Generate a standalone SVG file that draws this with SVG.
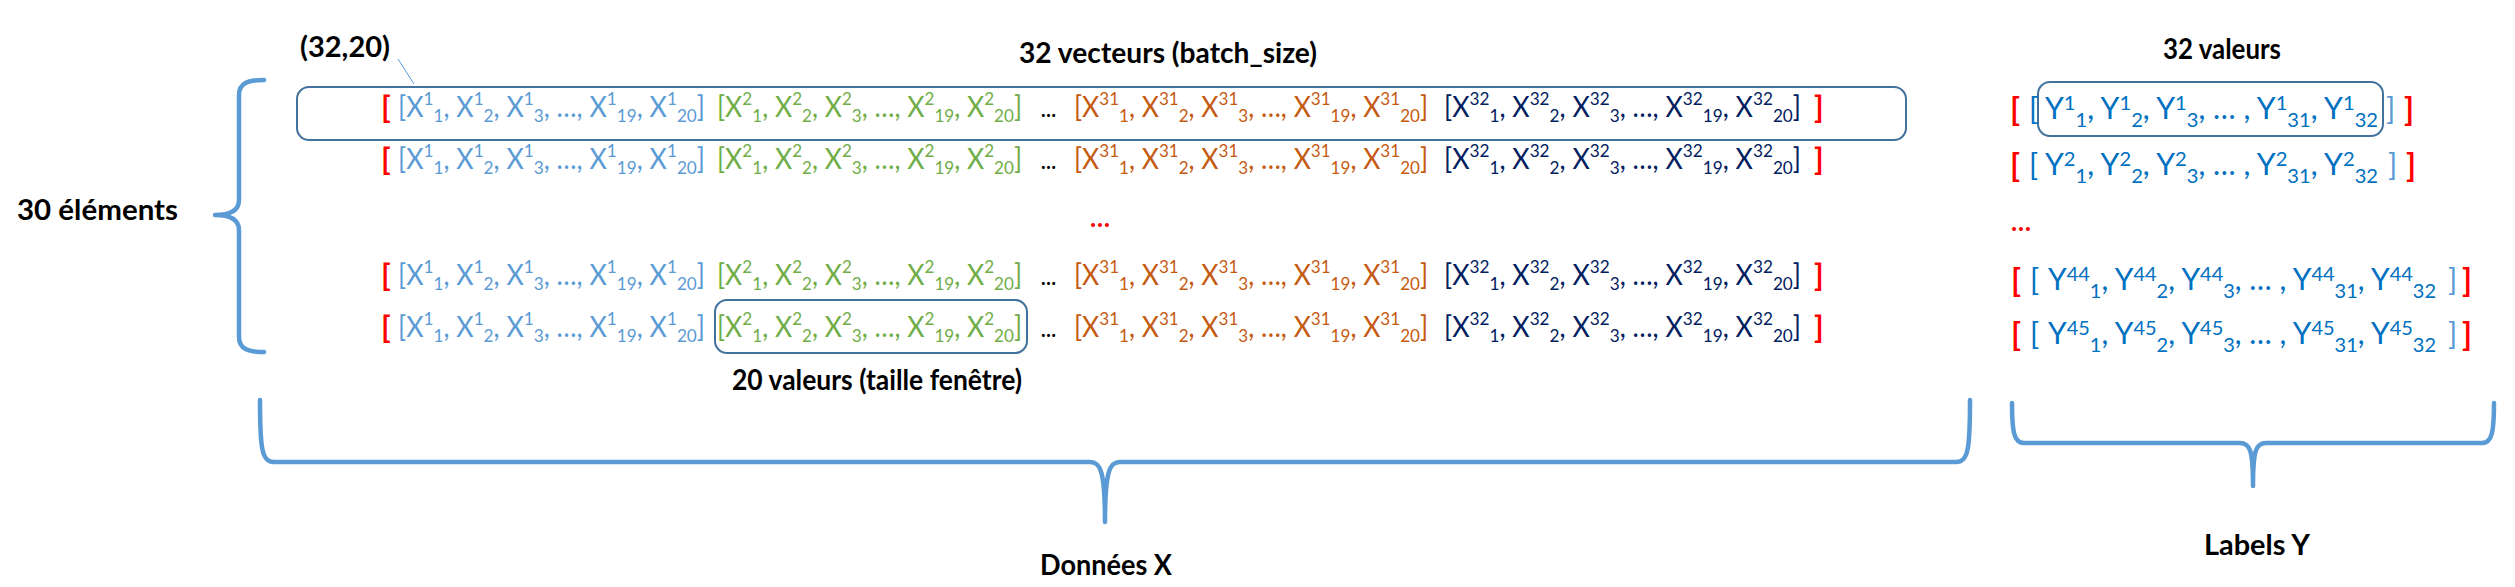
<svg xmlns="http://www.w3.org/2000/svg" width="2515" height="587" viewBox="0 0 2515 587">
<style>
text{font-family:Lato,'Noto Sans',sans-serif}
.xt{font-size:28px}
.s{font-size:18px}
.ys{font-size:20px}
.yt{font-size:30px;fill:#0070C0}
.c1{fill:#5B9BD5}.c2{fill:#70AD47}.c3{fill:#C55A11}.c4{fill:#002060}
.red{fill:#FF0000;font-weight:bold;font-size:31px}
.dots{fill:#000;font-weight:bold;font-size:20px}
.lb{fill:#5B9BD5;font-size:30px}
.lbl{font-weight:bold;font-size:28px;fill:#000}
.box{fill:none;stroke:#41719C;stroke-width:2}
.brace{fill:none;stroke:#5B9BD5;stroke-width:4.5;stroke-linecap:round;stroke-linejoin:round}
</style>
<rect width="2515" height="587" fill="#fff"/>
<g id="labels">
<text class="lbl" x="300" y="57" textLength="90" lengthAdjust="spacingAndGlyphs">(32,20)</text>
<text class="lbl" x="1019" y="63" textLength="298" lengthAdjust="spacingAndGlyphs">32 vecteurs (batch_size)</text>
<text class="lbl" x="2163" y="59" textLength="118" lengthAdjust="spacingAndGlyphs">32 valeurs</text>
<text class="lbl" x="17" y="220" textLength="161" lengthAdjust="spacingAndGlyphs">30 éléments</text>
<text class="lbl" x="732" y="390" textLength="290" lengthAdjust="spacingAndGlyphs">20 valeurs (taille fenêtre)</text>
<text class="lbl" x="1040" y="575" textLength="132" lengthAdjust="spacingAndGlyphs">Données X</text>
<text class="lbl" x="2204" y="555" textLength="106" lengthAdjust="spacingAndGlyphs">Labels Y</text>
</g>
<g id="connectors">
<line x1="398" y1="59" x2="414" y2="84" stroke="#5B9BD5" stroke-width="1"/>
<path class="brace" d="M264,80 C248,80 239,83 239,95 L239,200 C239,211 230,215 215,215 C230,215 239,219 239,230 L239,337 C239,349 248,352 264,352"/>
<path class="brace" d="M260,400 C260,450 262,462 274,462 L1090,462 C1100,462 1105,470 1105,522 C1105,470 1110,462 1120,462 L1956,462 C1968,462 1970,450 1970,400"/>
<path class="brace" d="M2012,403 C2012,432 2014,443 2024,443 L2240,443 C2250,443 2253,450 2253,486 C2253,450 2256,443 2266,443 L2482,443 C2492,443 2494,432 2494,403"/>
</g>
<g id="boxes">
<rect id="box-batch" class="box" x="297" y="87" width="1609" height="53" rx="12"/>
<rect id="box-window" class="box" x="715" y="300" width="312" height="53" rx="12"/>
<rect id="box-labels" class="box" x="2038" y="82" width="345" height="54" rx="12"/>
</g>
<g id="x-row1">
<text class="red" x="381" y="118">[</text>
<text class="xt c1" x="398" y="117" textLength="307" lengthAdjust="spacingAndGlyphs">[X<tspan class="s" dy="-12">1</tspan><tspan class="s" dy="17">1</tspan><tspan dy="-5">, X</tspan><tspan class="s" dy="-12">1</tspan><tspan class="s" dy="17">2</tspan><tspan dy="-5">, X</tspan><tspan class="s" dy="-12">1</tspan><tspan class="s" dy="17">3</tspan><tspan dy="-5">, …, X</tspan><tspan class="s" dy="-12">1</tspan><tspan class="s" dy="17">19</tspan><tspan dy="-5">, X</tspan><tspan class="s" dy="-12">1</tspan><tspan class="s" dy="17">20</tspan><tspan dy="-5">]</tspan></text>
<text class="xt c2" x="717" y="117" textLength="305" lengthAdjust="spacingAndGlyphs">[X<tspan class="s" dy="-12">2</tspan><tspan class="s" dy="17">1</tspan><tspan dy="-5">, X</tspan><tspan class="s" dy="-12">2</tspan><tspan class="s" dy="17">2</tspan><tspan dy="-5">, X</tspan><tspan class="s" dy="-12">2</tspan><tspan class="s" dy="17">3</tspan><tspan dy="-5">, …, X</tspan><tspan class="s" dy="-12">2</tspan><tspan class="s" dy="17">19</tspan><tspan dy="-5">, X</tspan><tspan class="s" dy="-12">2</tspan><tspan class="s" dy="17">20</tspan><tspan dy="-5">]</tspan></text>
<text class="dots" x="1041" y="117" textLength="15" lengthAdjust="spacingAndGlyphs">…</text>
<text class="xt c3" x="1074" y="117" textLength="354" lengthAdjust="spacingAndGlyphs">[X<tspan class="s" dy="-12">31</tspan><tspan class="s" dy="17">1</tspan><tspan dy="-5">, X</tspan><tspan class="s" dy="-12">31</tspan><tspan class="s" dy="17">2</tspan><tspan dy="-5">, X</tspan><tspan class="s" dy="-12">31</tspan><tspan class="s" dy="17">3</tspan><tspan dy="-5">, …, X</tspan><tspan class="s" dy="-12">31</tspan><tspan class="s" dy="17">19</tspan><tspan dy="-5">, X</tspan><tspan class="s" dy="-12">31</tspan><tspan class="s" dy="17">20</tspan><tspan dy="-5">]</tspan></text>
<text class="xt c4" x="1444" y="117" textLength="357" lengthAdjust="spacingAndGlyphs">[X<tspan class="s" dy="-12">32</tspan><tspan class="s" dy="17">1</tspan><tspan dy="-5">, X</tspan><tspan class="s" dy="-12">32</tspan><tspan class="s" dy="17">2</tspan><tspan dy="-5">, X</tspan><tspan class="s" dy="-12">32</tspan><tspan class="s" dy="17">3</tspan><tspan dy="-5">, …, X</tspan><tspan class="s" dy="-12">32</tspan><tspan class="s" dy="17">19</tspan><tspan dy="-5">, X</tspan><tspan class="s" dy="-12">32</tspan><tspan class="s" dy="17">20</tspan><tspan dy="-5">]</tspan></text>
<text class="red" x="1814" y="118">]</text>
</g>
<g id="x-row2">
<text class="red" x="381" y="170">[</text>
<text class="xt c1" x="398" y="169" textLength="307" lengthAdjust="spacingAndGlyphs">[X<tspan class="s" dy="-12">1</tspan><tspan class="s" dy="17">1</tspan><tspan dy="-5">, X</tspan><tspan class="s" dy="-12">1</tspan><tspan class="s" dy="17">2</tspan><tspan dy="-5">, X</tspan><tspan class="s" dy="-12">1</tspan><tspan class="s" dy="17">3</tspan><tspan dy="-5">, …, X</tspan><tspan class="s" dy="-12">1</tspan><tspan class="s" dy="17">19</tspan><tspan dy="-5">, X</tspan><tspan class="s" dy="-12">1</tspan><tspan class="s" dy="17">20</tspan><tspan dy="-5">]</tspan></text>
<text class="xt c2" x="717" y="169" textLength="305" lengthAdjust="spacingAndGlyphs">[X<tspan class="s" dy="-12">2</tspan><tspan class="s" dy="17">1</tspan><tspan dy="-5">, X</tspan><tspan class="s" dy="-12">2</tspan><tspan class="s" dy="17">2</tspan><tspan dy="-5">, X</tspan><tspan class="s" dy="-12">2</tspan><tspan class="s" dy="17">3</tspan><tspan dy="-5">, …, X</tspan><tspan class="s" dy="-12">2</tspan><tspan class="s" dy="17">19</tspan><tspan dy="-5">, X</tspan><tspan class="s" dy="-12">2</tspan><tspan class="s" dy="17">20</tspan><tspan dy="-5">]</tspan></text>
<text class="dots" x="1041" y="169" textLength="15" lengthAdjust="spacingAndGlyphs">…</text>
<text class="xt c3" x="1074" y="169" textLength="354" lengthAdjust="spacingAndGlyphs">[X<tspan class="s" dy="-12">31</tspan><tspan class="s" dy="17">1</tspan><tspan dy="-5">, X</tspan><tspan class="s" dy="-12">31</tspan><tspan class="s" dy="17">2</tspan><tspan dy="-5">, X</tspan><tspan class="s" dy="-12">31</tspan><tspan class="s" dy="17">3</tspan><tspan dy="-5">, …, X</tspan><tspan class="s" dy="-12">31</tspan><tspan class="s" dy="17">19</tspan><tspan dy="-5">, X</tspan><tspan class="s" dy="-12">31</tspan><tspan class="s" dy="17">20</tspan><tspan dy="-5">]</tspan></text>
<text class="xt c4" x="1444" y="169" textLength="357" lengthAdjust="spacingAndGlyphs">[X<tspan class="s" dy="-12">32</tspan><tspan class="s" dy="17">1</tspan><tspan dy="-5">, X</tspan><tspan class="s" dy="-12">32</tspan><tspan class="s" dy="17">2</tspan><tspan dy="-5">, X</tspan><tspan class="s" dy="-12">32</tspan><tspan class="s" dy="17">3</tspan><tspan dy="-5">, …, X</tspan><tspan class="s" dy="-12">32</tspan><tspan class="s" dy="17">19</tspan><tspan dy="-5">, X</tspan><tspan class="s" dy="-12">32</tspan><tspan class="s" dy="17">20</tspan><tspan dy="-5">]</tspan></text>
<text class="red" x="1814" y="170">]</text>
</g>
<g id="x-ellipsis">
<text class="red" x="1090" y="227" textLength="20" lengthAdjust="spacingAndGlyphs" style="font-size:26px">…</text>
</g>
<g id="x-row3">
<text class="red" x="381" y="286">[</text>
<text class="xt c1" x="398" y="285" textLength="307" lengthAdjust="spacingAndGlyphs">[X<tspan class="s" dy="-12">1</tspan><tspan class="s" dy="17">1</tspan><tspan dy="-5">, X</tspan><tspan class="s" dy="-12">1</tspan><tspan class="s" dy="17">2</tspan><tspan dy="-5">, X</tspan><tspan class="s" dy="-12">1</tspan><tspan class="s" dy="17">3</tspan><tspan dy="-5">, …, X</tspan><tspan class="s" dy="-12">1</tspan><tspan class="s" dy="17">19</tspan><tspan dy="-5">, X</tspan><tspan class="s" dy="-12">1</tspan><tspan class="s" dy="17">20</tspan><tspan dy="-5">]</tspan></text>
<text class="xt c2" x="717" y="285" textLength="305" lengthAdjust="spacingAndGlyphs">[X<tspan class="s" dy="-12">2</tspan><tspan class="s" dy="17">1</tspan><tspan dy="-5">, X</tspan><tspan class="s" dy="-12">2</tspan><tspan class="s" dy="17">2</tspan><tspan dy="-5">, X</tspan><tspan class="s" dy="-12">2</tspan><tspan class="s" dy="17">3</tspan><tspan dy="-5">, …, X</tspan><tspan class="s" dy="-12">2</tspan><tspan class="s" dy="17">19</tspan><tspan dy="-5">, X</tspan><tspan class="s" dy="-12">2</tspan><tspan class="s" dy="17">20</tspan><tspan dy="-5">]</tspan></text>
<text class="dots" x="1041" y="285" textLength="15" lengthAdjust="spacingAndGlyphs">…</text>
<text class="xt c3" x="1074" y="285" textLength="354" lengthAdjust="spacingAndGlyphs">[X<tspan class="s" dy="-12">31</tspan><tspan class="s" dy="17">1</tspan><tspan dy="-5">, X</tspan><tspan class="s" dy="-12">31</tspan><tspan class="s" dy="17">2</tspan><tspan dy="-5">, X</tspan><tspan class="s" dy="-12">31</tspan><tspan class="s" dy="17">3</tspan><tspan dy="-5">, …, X</tspan><tspan class="s" dy="-12">31</tspan><tspan class="s" dy="17">19</tspan><tspan dy="-5">, X</tspan><tspan class="s" dy="-12">31</tspan><tspan class="s" dy="17">20</tspan><tspan dy="-5">]</tspan></text>
<text class="xt c4" x="1444" y="285" textLength="357" lengthAdjust="spacingAndGlyphs">[X<tspan class="s" dy="-12">32</tspan><tspan class="s" dy="17">1</tspan><tspan dy="-5">, X</tspan><tspan class="s" dy="-12">32</tspan><tspan class="s" dy="17">2</tspan><tspan dy="-5">, X</tspan><tspan class="s" dy="-12">32</tspan><tspan class="s" dy="17">3</tspan><tspan dy="-5">, …, X</tspan><tspan class="s" dy="-12">32</tspan><tspan class="s" dy="17">19</tspan><tspan dy="-5">, X</tspan><tspan class="s" dy="-12">32</tspan><tspan class="s" dy="17">20</tspan><tspan dy="-5">]</tspan></text>
<text class="red" x="1814" y="286">]</text>
</g>
<g id="x-row4">
<text class="red" x="381" y="338">[</text>
<text class="xt c1" x="398" y="337" textLength="307" lengthAdjust="spacingAndGlyphs">[X<tspan class="s" dy="-12">1</tspan><tspan class="s" dy="17">1</tspan><tspan dy="-5">, X</tspan><tspan class="s" dy="-12">1</tspan><tspan class="s" dy="17">2</tspan><tspan dy="-5">, X</tspan><tspan class="s" dy="-12">1</tspan><tspan class="s" dy="17">3</tspan><tspan dy="-5">, …, X</tspan><tspan class="s" dy="-12">1</tspan><tspan class="s" dy="17">19</tspan><tspan dy="-5">, X</tspan><tspan class="s" dy="-12">1</tspan><tspan class="s" dy="17">20</tspan><tspan dy="-5">]</tspan></text>
<text class="xt c2" x="717" y="337" textLength="305" lengthAdjust="spacingAndGlyphs">[X<tspan class="s" dy="-12">2</tspan><tspan class="s" dy="17">1</tspan><tspan dy="-5">, X</tspan><tspan class="s" dy="-12">2</tspan><tspan class="s" dy="17">2</tspan><tspan dy="-5">, X</tspan><tspan class="s" dy="-12">2</tspan><tspan class="s" dy="17">3</tspan><tspan dy="-5">, …, X</tspan><tspan class="s" dy="-12">2</tspan><tspan class="s" dy="17">19</tspan><tspan dy="-5">, X</tspan><tspan class="s" dy="-12">2</tspan><tspan class="s" dy="17">20</tspan><tspan dy="-5">]</tspan></text>
<text class="dots" x="1041" y="337" textLength="15" lengthAdjust="spacingAndGlyphs">…</text>
<text class="xt c3" x="1074" y="337" textLength="354" lengthAdjust="spacingAndGlyphs">[X<tspan class="s" dy="-12">31</tspan><tspan class="s" dy="17">1</tspan><tspan dy="-5">, X</tspan><tspan class="s" dy="-12">31</tspan><tspan class="s" dy="17">2</tspan><tspan dy="-5">, X</tspan><tspan class="s" dy="-12">31</tspan><tspan class="s" dy="17">3</tspan><tspan dy="-5">, …, X</tspan><tspan class="s" dy="-12">31</tspan><tspan class="s" dy="17">19</tspan><tspan dy="-5">, X</tspan><tspan class="s" dy="-12">31</tspan><tspan class="s" dy="17">20</tspan><tspan dy="-5">]</tspan></text>
<text class="xt c4" x="1444" y="337" textLength="357" lengthAdjust="spacingAndGlyphs">[X<tspan class="s" dy="-12">32</tspan><tspan class="s" dy="17">1</tspan><tspan dy="-5">, X</tspan><tspan class="s" dy="-12">32</tspan><tspan class="s" dy="17">2</tspan><tspan dy="-5">, X</tspan><tspan class="s" dy="-12">32</tspan><tspan class="s" dy="17">3</tspan><tspan dy="-5">, …, X</tspan><tspan class="s" dy="-12">32</tspan><tspan class="s" dy="17">19</tspan><tspan dy="-5">, X</tspan><tspan class="s" dy="-12">32</tspan><tspan class="s" dy="17">20</tspan><tspan dy="-5">]</tspan></text>
<text class="red" x="1814" y="338">]</text>
</g>
<g id="y-row1">
<text class="red" x="2010" y="121" style="font-size:32px">[</text>
<text class="yt" x="2029" y="120">[</text>
<text class="yt" x="2045" y="119" textLength="333" lengthAdjust="spacingAndGlyphs">Y<tspan class="ys" dy="-9">1</tspan><tspan class="ys" dy="17">1</tspan><tspan dy="-8">, Y</tspan><tspan class="ys" dy="-9">1</tspan><tspan class="ys" dy="17">2</tspan><tspan dy="-8">, Y</tspan><tspan class="ys" dy="-9">1</tspan><tspan class="ys" dy="17">3</tspan><tspan dy="-8">, … , Y</tspan><tspan class="ys" dy="-9">1</tspan><tspan class="ys" dy="17">31</tspan><tspan dy="-8">, Y</tspan><tspan class="ys" dy="-9">1</tspan><tspan class="ys" dy="17">32</tspan></text>
<text class="lb" x="2386" y="120">]</text>
<text class="red" x="2404" y="121" style="font-size:32px">]</text>
</g>
<g id="y-row2">
<text class="red" x="2010" y="177" style="font-size:32px">[</text>
<text class="yt" x="2029" y="176">[</text>
<text class="yt" x="2045" y="175" textLength="333" lengthAdjust="spacingAndGlyphs">Y<tspan class="ys" dy="-9">2</tspan><tspan class="ys" dy="17">1</tspan><tspan dy="-8">, Y</tspan><tspan class="ys" dy="-9">2</tspan><tspan class="ys" dy="17">2</tspan><tspan dy="-8">, Y</tspan><tspan class="ys" dy="-9">2</tspan><tspan class="ys" dy="17">3</tspan><tspan dy="-8">, … , Y</tspan><tspan class="ys" dy="-9">2</tspan><tspan class="ys" dy="17">31</tspan><tspan dy="-8">, Y</tspan><tspan class="ys" dy="-9">2</tspan><tspan class="ys" dy="17">32</tspan></text>
<text class="lb" x="2388" y="176">]</text>
<text class="red" x="2406" y="177" style="font-size:32px">]</text>
</g>
<g id="y-ellipsis">
<text class="red" x="2011" y="231" textLength="20" lengthAdjust="spacingAndGlyphs" style="font-size:26px">…</text>
</g>
<g id="y-row3">
<text class="red" x="2011" y="292" style="font-size:32px">[</text>
<text class="yt" x="2030" y="291">[</text>
<text class="yt" x="2048" y="290" textLength="388" lengthAdjust="spacingAndGlyphs">Y<tspan class="ys" dy="-9">44</tspan><tspan class="ys" dy="17">1</tspan><tspan dy="-8">, Y</tspan><tspan class="ys" dy="-9">44</tspan><tspan class="ys" dy="17">2</tspan><tspan dy="-8">, Y</tspan><tspan class="ys" dy="-9">44</tspan><tspan class="ys" dy="17">3</tspan><tspan dy="-8">, … , Y</tspan><tspan class="ys" dy="-9">44</tspan><tspan class="ys" dy="17">31</tspan><tspan dy="-8">, Y</tspan><tspan class="ys" dy="-9">44</tspan><tspan class="ys" dy="17">32</tspan></text>
<text class="lb" x="2448" y="291">]</text>
<text class="red" x="2462" y="292" style="font-size:32px">]</text>
</g>
<g id="y-row4">
<text class="red" x="2011" y="346" style="font-size:32px">[</text>
<text class="yt" x="2030" y="345">[</text>
<text class="yt" x="2048" y="344" textLength="388" lengthAdjust="spacingAndGlyphs">Y<tspan class="ys" dy="-9">45</tspan><tspan class="ys" dy="17">1</tspan><tspan dy="-8">, Y</tspan><tspan class="ys" dy="-9">45</tspan><tspan class="ys" dy="17">2</tspan><tspan dy="-8">, Y</tspan><tspan class="ys" dy="-9">45</tspan><tspan class="ys" dy="17">3</tspan><tspan dy="-8">, … , Y</tspan><tspan class="ys" dy="-9">45</tspan><tspan class="ys" dy="17">31</tspan><tspan dy="-8">, Y</tspan><tspan class="ys" dy="-9">45</tspan><tspan class="ys" dy="17">32</tspan></text>
<text class="lb" x="2448" y="345">]</text>
<text class="red" x="2462" y="346" style="font-size:32px">]</text>
</g>
</svg>
